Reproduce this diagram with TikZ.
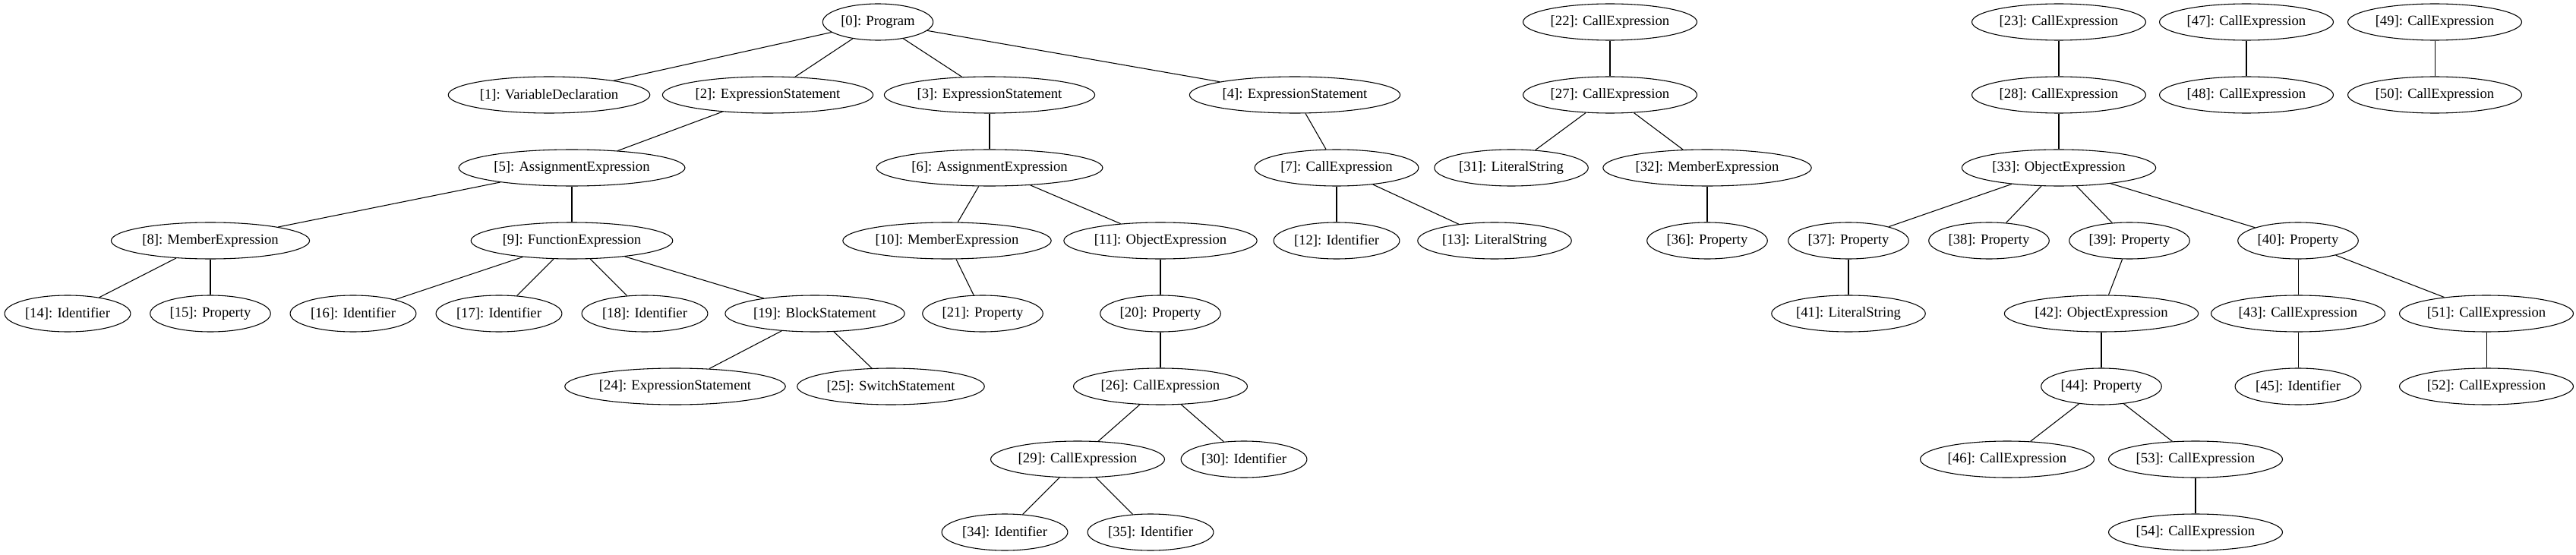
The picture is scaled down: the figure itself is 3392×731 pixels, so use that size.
\documentclass[tikz,border=0pt]{standalone}
\usepackage{fontspec}
\setmainfont{Liberation Serif}
\usetikzlibrary{shapes.geometric}

\begin{document}
\begin{tikzpicture}[x=0.75pt, y=-0.75pt, line width=0.8pt,
  ast/.style={draw, ellipse, minimum height=36pt, inner xsep=2pt, inner ysep=0pt,
    font=\fontsize{14}{16}\selectfont}]
\useasboundingbox (0,0) rectangle (3392,731);
% Row 0
\node[ast] (n0) at (1156,29) {[0]: Program};
\node[ast] (n22) at (2120,29) {[22]: CallExpression};
\node[ast] (n23) at (2711,29) {[23]: CallExpression};
\node[ast] (n47) at (2958,29) {[47]: CallExpression};
\node[ast] (n49) at (3206,29) {[49]: CallExpression};
% Row 1
\node[ast] (n1) at (723,125) {[1]: VariableDeclaration};
\node[ast] (n2) at (1011,125) {[2]: ExpressionStatement};
\node[ast] (n3) at (1303,125) {[3]: ExpressionStatement};
\node[ast] (n4) at (1705,125) {[4]: ExpressionStatement};
\node[ast] (n27) at (2120,125) {[27]: CallExpression};
\node[ast] (n28) at (2711,125) {[28]: CallExpression};
\node[ast] (n48) at (2958,125) {[48]: CallExpression};
\node[ast] (n50) at (3206,125) {[50]: CallExpression};
% Row 2
\node[ast] (n5) at (753,221) {[5]: AssignmentExpression};
\node[ast] (n6) at (1303,221) {[6]: AssignmentExpression};
\node[ast] (n7) at (1760,221) {[7]: CallExpression};
\node[ast] (n31) at (1990,221) {[31]: LiteralString};
\node[ast] (n32) at (2248,221) {[32]: MemberExpression};
\node[ast] (n33) at (2711,221) {[33]: ObjectExpression};
% Row 3
\node[ast] (n8) at (277,317) {[8]: MemberExpression};
\node[ast] (n9) at (753,317) {[9]: FunctionExpression};
\node[ast] (n10) at (1247,317) {[10]: MemberExpression};
\node[ast] (n11) at (1528,317) {[11]: ObjectExpression};
\node[ast] (n12) at (1760,317) {[12]: Identifier};
\node[ast] (n13) at (1968,317) {[13]: LiteralString};
\node[ast] (n36) at (2248,317) {[36]: Property};
\node[ast] (n37) at (2434,317) {[37]: Property};
\node[ast] (n38) at (2619,317) {[38]: Property};
\node[ast] (n39) at (2804,317) {[39]: Property};
\node[ast] (n40) at (3026,317) {[40]: Property};
% Row 4
\node[ast] (n14) at (89,413) {[14]: Identifier};
\node[ast] (n15) at (277,413) {[15]: Property};
\node[ast] (n16) at (465,413) {[16]: Identifier};
\node[ast] (n17) at (657,413) {[17]: Identifier};
\node[ast] (n18) at (849,413) {[18]: Identifier};
\node[ast] (n19) at (1073,413) {[19]: BlockStatement};
\node[ast] (n21) at (1294,413) {[21]: Property};
\node[ast] (n20) at (1528,413) {[20]: Property};
\node[ast] (n41) at (2434,413) {[41]: LiteralString};
\node[ast] (n42) at (2767,413) {[42]: ObjectExpression};
\node[ast] (n43) at (3026,413) {[43]: CallExpression};
\node[ast] (n51) at (3274,413) {[51]: CallExpression};
% Row 5
\node[ast] (n24) at (889,509) {[24]: ExpressionStatement};
\node[ast] (n25) at (1173,509) {[25]: SwitchStatement};
\node[ast] (n26) at (1528,509) {[26]: CallExpression};
\node[ast] (n44) at (2767,509) {[44]: Property};
\node[ast] (n45) at (3026,509) {[45]: Identifier};
\node[ast] (n52) at (3274,509) {[52]: CallExpression};
% Row 6
\node[ast] (n29) at (1419,605) {[29]: CallExpression};
\node[ast] (n30) at (1638,605) {[30]: Identifier};
\node[ast] (n46) at (2643,605) {[46]: CallExpression};
\node[ast] (n53) at (2891,605) {[53]: CallExpression};
% Row 7
\node[ast] (n34) at (1323,701) {[34]: Identifier};
\node[ast] (n35) at (1515,701) {[35]: Identifier};
\node[ast] (n54) at (2891,701) {[54]: CallExpression};
% Draw edges
\foreach \a/\b in {0/1, 0/2, 0/3, 0/4, 2/5, 3/6, 4/7, 5/8, 5/9, 6/10, 6/11,
    7/12, 7/13, 8/14, 8/15, 9/16, 9/17, 9/18, 9/19, 10/21, 11/20, 19/24, 19/25,
    20/26, 26/29, 26/30, 29/34, 29/35, 22/27, 27/31, 27/32, 32/36, 23/28, 28/33,
    33/37, 33/38, 33/39, 33/40, 37/41, 39/42, 42/44, 44/46, 44/53, 53/54,
    40/43, 40/51, 43/45, 51/52, 47/48, 49/50}
  \draw (n\a) -- (n\b);
\end{tikzpicture}
\end{document}
